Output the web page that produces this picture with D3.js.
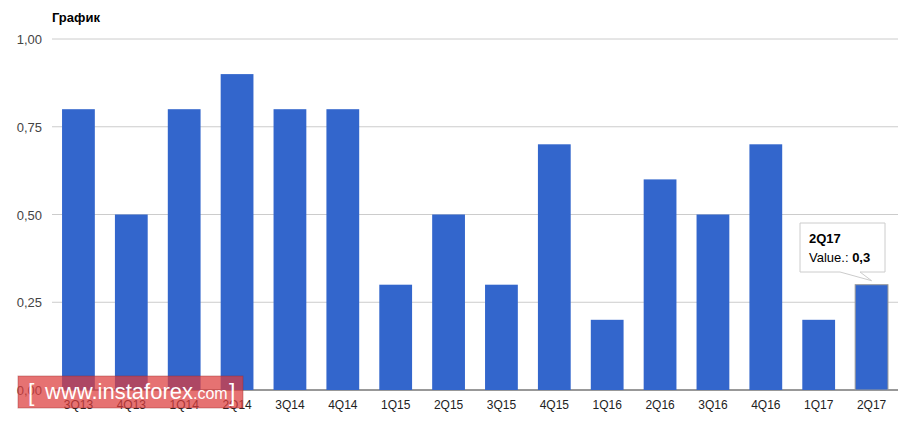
<!DOCTYPE html>
<html><head><meta charset="utf-8">
<script src="https://cdn.jsdelivr.net/npm/d3@7"></script>
<style>body{margin:0;background:#fff}text{font-family:Arial,"Liberation Sans",sans-serif}</style>
</head><body><svg id="c" width="922" height="427"></svg>
<script>
const categories=["3Q13","4Q13","1Q14","2Q14","3Q14","4Q14","1Q15","2Q15","3Q15","4Q15","1Q16","2Q16","3Q16","4Q16","1Q17","2Q17"];
const values=[0.8,0.5,0.8,0.9,0.8,0.8,0.3,0.5,0.3,0.7,0.2,0.6,0.5,0.7,0.2,0.3];
const yTicks=[0,0.25,0.5,0.75,1];
const fmt=d=>d3.format(".2f")(d).replace(".",",");
const svg=d3.select("#c");
const x=d3.scaleBand().domain(categories).range([52,898]).paddingInner(0.38).paddingOuter(0.19);
const y=d3.scaleLinear().domain([0,1]).range([390,39]);
svg.append("text").attr("x",52).attr("y",22).attr("font-size",13).attr("font-weight","bold").text("График");
svg.selectAll(".g").data(yTicks).join("line").attr("x1",52).attr("x2",898).attr("y1",d=>y(d)).attr("y2",d=>y(d)).attr("stroke",d=>d===0?"#333":"#ccc");
svg.selectAll(".yl").data(yTicks).join("text").attr("x",42).attr("y",d=>y(d)+5).attr("text-anchor","end").attr("font-size",13).attr("fill","#444").text(fmt);
svg.selectAll(".b").data(values).join("rect").attr("x",(d,i)=>x(categories[i])).attr("width",x.bandwidth()).attr("y",d=>y(d)).attr("height",d=>390-y(d)).attr("fill","#3366cc")
 .attr("stroke",(d,i)=>i===15?"#999":"none").attr("stroke-width",1);
svg.selectAll(".xl").data(categories).join("text").attr("x",d=>x(d)+x.bandwidth()/2).attr("y",409).attr("text-anchor","middle").attr("font-size",12).attr("fill","#222").text(d=>d);
// tooltip
const tx=x("2Q17")+x.bandwidth()/2, ty=y(values[15]);
const tg=svg.append("g");
tg.append("path").attr("d",`M800,223H885V272H860L${tx},${ty-4}L840,272H800Z`).attr("fill","#fff").attr("stroke","#ccc");
tg.append("text").attr("x",809).attr("y",243).attr("font-size",13).attr("font-weight","bold").text("2Q17");
const t2=tg.append("text").attr("x",809).attr("y",262).attr("font-size",13);
t2.append("tspan").text("Value.: ");t2.append("tspan").attr("font-weight","bold").text("0,3");
// watermark
svg.append("rect").attr("x",18).attr("y",376).attr("width",225).attr("height",32).attr("fill","rgba(220,60,60,0.72)").attr("stroke","rgba(150,40,40,0.4)");
svg.append("text").attr("x",28).attr("y",401).attr("font-size",23).attr("fill","#fff").text("[");
const w=svg.append("text").attr("x",45).attr("y",399).attr("fill","#fff");
w.append("tspan").attr("font-size",22).text("www.instaforex");w.append("tspan").attr("font-size",16).text(".com");
svg.append("text").attr("x",229).attr("y",401).attr("font-size",23).attr("fill","#fff").text("]");
</script></body></html>
